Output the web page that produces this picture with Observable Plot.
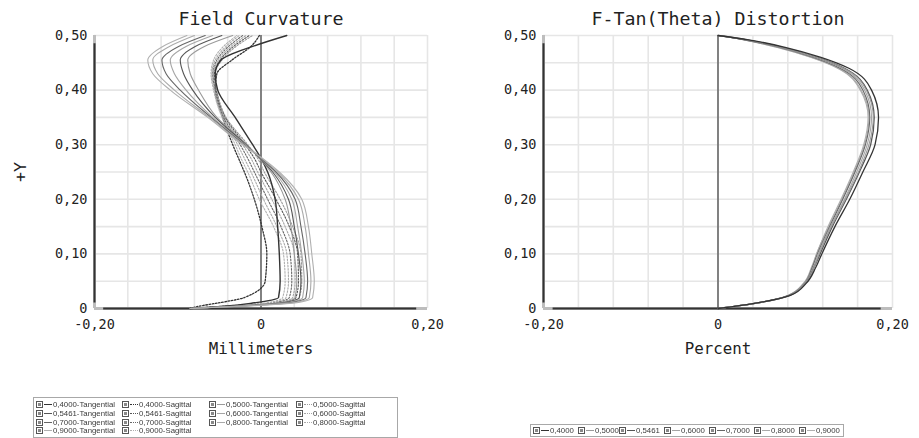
<!DOCTYPE html>
<html><head><meta charset="utf-8">
<script src="https://cdn.jsdelivr.net/npm/d3@7"></script>
<script src="https://cdn.jsdelivr.net/npm/@observablehq/plot@0.6"></script>
<style>
body{margin:0;background:#fff;}
#wrap{position:relative;width:919px;height:438px;overflow:hidden;}
.panel{position:absolute;top:0;}
.legend{position:absolute;border:1px solid #a8a8a8;background:#fff;font-family:"Liberation Sans","Noto Sans",sans-serif;font-size:7.8px;color:#3a3a3a;white-space:nowrap;will-change:transform;}
.item{position:absolute;display:flex;align-items:center;height:9px;}
.chk{display:inline-block;width:5px;height:5px;border:1px solid #555;margin-right:1px;position:relative;}
.chk::after{content:"";position:absolute;left:1px;top:1px;width:3px;height:3px;background:#888;}
.ln{display:inline-block;width:8px;height:0;margin-right:1px;}
</style></head>
<body><div id="wrap"></div>
<script>
// ---------- data ----------
const wavelengths = ["0,4000","0,5000","0,5461","0,6000","0,7000","0,8000","0,9000"];
const seriesColors = ["#333","#9a9a9a","#555","#a5a5a5","#666","#aaa","#b0b0b0"];

// Field curvature: x (mm) at each field height
const fcY = [0, 0.004, 0.01, 0.02, 0.05, 0.10, 0.15, 0.20, 0.25, 0.275, 0.30, 0.35, 0.40, 0.43, 0.455, 0.48, 0.50];
const tan4000 = [-0.085, -0.045, -0.010, 0.021, 0.023, 0.022, 0.020, 0.017, 0.008, 0.000, -0.010, -0.031, -0.052, -0.055, -0.048, -0.010, 0.031];
const tan5000 = [-0.085, -0.035, 0.020, 0.041, 0.043, 0.040, 0.036, 0.029, 0.012, -0.002, -0.017, -0.053, -0.075, -0.085, -0.088, -0.068, -0.034];
const tan5461 = [-0.085, -0.033, 0.024, 0.046, 0.048, 0.045, 0.040, 0.033, 0.014, -0.001, -0.018, -0.055, -0.082, -0.093, -0.097, -0.079, -0.047];
const tan6000 = [-0.085, -0.031, 0.028, 0.050, 0.052, 0.049, 0.044, 0.037, 0.016, 0.000, -0.019, -0.058, -0.090, -0.104, -0.109, -0.090, -0.058];
const tan7000 = [-0.085, -0.029, 0.032, 0.054, 0.056, 0.053, 0.048, 0.041, 0.018, 0.000, -0.020, -0.060, -0.097, -0.114, -0.119, -0.099, -0.067];
const tan8000 = [-0.085, -0.027, 0.036, 0.058, 0.060, 0.057, 0.053, 0.045, 0.020, 0.001, -0.021, -0.062, -0.104, -0.124, -0.130, -0.110, -0.080];
const tan9000 = [-0.085, -0.025, 0.040, 0.062, 0.064, 0.061, 0.057, 0.049, 0.022, 0.002, -0.022, -0.064, -0.109, -0.130, -0.136, -0.118, -0.089];
const sag4000 = [-0.085, -0.075, -0.052, -0.020, 0.005, 0.007, 0.001, -0.008, -0.020, -0.027, -0.034, -0.046, -0.055, -0.053, -0.035, -0.012, -0.002];
const sag5000 = [-0.085, -0.035, 0.025, 0.046, 0.049, 0.048, 0.038, 0.023, 0.004, -0.004, -0.016, -0.042, -0.053, -0.055, -0.047, -0.030, -0.010];
const sag5461 = [-0.085, -0.038, 0.021, 0.042, 0.045, 0.044, 0.034, 0.018, 0.000, -0.008, -0.019, -0.043, -0.054, -0.056, -0.049, -0.033, -0.014];
const sag6000 = [-0.085, -0.041, 0.017, 0.038, 0.041, 0.040, 0.029, 0.013, -0.004, -0.012, -0.022, -0.044, -0.055, -0.057, -0.051, -0.036, -0.018];
const sag7000 = [-0.085, -0.044, 0.013, 0.034, 0.037, 0.035, 0.024, 0.008, -0.008, -0.016, -0.025, -0.045, -0.055, -0.058, -0.053, -0.039, -0.022];
const sag8000 = [-0.085, -0.047, 0.009, 0.030, 0.033, 0.031, 0.019, 0.003, -0.012, -0.020, -0.028, -0.046, -0.056, -0.059, -0.055, -0.042, -0.026];
const sag9000 = [-0.085, -0.050, 0.005, 0.026, 0.029, 0.027, 0.015, -0.002, -0.016, -0.024, -0.031, -0.047, -0.057, -0.060, -0.057, -0.045, -0.029];

// F-Tan(Theta) distortion: percent at each field height
const dY = [0, 0.009, 0.024, 0.046, 0.075, 0.10, 0.15, 0.20, 0.25, 0.30, 0.35, 0.40, 0.44, 0.46, 0.478, 0.492, 0.50];
const dist4000 = [0, 0.040, 0.083, 0.101, 0.112, 0.119, 0.134, 0.151, 0.166, 0.180, 0.184, 0.176, 0.150, 0.118, 0.078, 0.035, 0];
const dist5000 = [0, 0.041, 0.082, 0.100, 0.110, 0.116, 0.130, 0.146, 0.161, 0.173, 0.178, 0.170, 0.144, 0.113, 0.074, 0.033, 0];
const dist5461 = [0, 0.041, 0.082, 0.100, 0.110, 0.117, 0.131, 0.147, 0.162, 0.175, 0.179, 0.171, 0.145, 0.114, 0.075, 0.033, 0];
const dist6000 = [0, 0.040, 0.081, 0.099, 0.109, 0.115, 0.129, 0.145, 0.159, 0.171, 0.176, 0.168, 0.142, 0.111, 0.072, 0.032, 0];
const dist7000 = [0, 0.040, 0.081, 0.099, 0.108, 0.114, 0.128, 0.143, 0.157, 0.169, 0.174, 0.166, 0.140, 0.109, 0.071, 0.031, 0];
const dist8000 = [0, 0.040, 0.080, 0.098, 0.108, 0.113, 0.127, 0.142, 0.156, 0.168, 0.173, 0.164, 0.138, 0.107, 0.069, 0.030, 0];
const dist9000 = [0, 0.040, 0.080, 0.098, 0.107, 0.113, 0.126, 0.141, 0.155, 0.167, 0.172, 0.163, 0.137, 0.106, 0.068, 0.030, 0];

const xTicks = [-0.2, 0, 0.2];
const yTicks = [0, 0.1, 0.2, 0.3, 0.4, 0.5];
const xGrid = [-0.2, -0.16, -0.12, -0.08, -0.04, 0, 0.04, 0.08, 0.12, 0.16, 0.2];
const yGrid = [0, 0.05, 0.1, 0.15, 0.2, 0.25, 0.3, 0.35, 0.4, 0.45, 0.5];

const tanSeries = [tan4000, tan5000, tan5461, tan6000, tan7000, tan8000, tan9000];
const sagSeries = [sag4000, sag5000, sag5461, sag6000, sag7000, sag8000, sag9000];
const distSeries = [dist4000, dist5000, dist5461, dist6000, dist7000, dist8000, dist9000];

// ---------- helpers ----------
const fmt = d => d === 0 ? "0" : d.toFixed(2).replace(".", ",");
const rows = (xs, ys) => xs.map((x, i) => ({x, y: ys[i]}));
const font = "DejaVu Sans Mono, monospace";

function frameMarks() {
  return [
    Plot.ruleX(xGrid, {stroke: "#e6e6e6", strokeWidth: 1.6}),
    Plot.ruleY(yGrid, {stroke: "#e6e6e6", strokeWidth: 1.6}),
    Plot.ruleX([-0.2], {y1: 0, y2: 0.5, stroke: "#bdbdbd", strokeWidth: 3}),
    Plot.ruleX([-0.2], {y1: 0.01, y2: 0.485, stroke: "#333", strokeWidth: 2}),
    Plot.ruleY([0], {x1: -0.2, x2: 0.2, stroke: "#bdbdbd", strokeWidth: 3}),
    Plot.ruleY([0], {x1: -0.189, x2: 0.187, stroke: "#333", strokeWidth: 2}),
    Plot.ruleX([0], {y1: 0, y2: 0.5, stroke: "#555", strokeWidth: 1.4})
  ];
}
function axisMarks(title, xlabel, ylabel) {
  const m = [
    Plot.axisX(xTicks, {tickSize: 0, tickPadding: 11, tickFormat: fmt, label: null, fontSize: 13.5, fill: "#222"}),
    Plot.axisY(yTicks, {tickSize: 0, tickPadding: 7, tickFormat: fmt, label: null, fontSize: 13.5, fill: "#222"}),
    Plot.text([title], {text: d => d, frameAnchor: "top", lineAnchor: "middle", dy: -16, fontSize: 18.3, fill: "#222"}),
    Plot.text([xlabel], {text: d => d, frameAnchor: "bottom", lineAnchor: "middle", dy: 40, fontSize: 15.8, fill: "#222"})
  ];
  if (ylabel) m.push(Plot.text([ylabel], {text: d => d, frameAnchor: "left", textAnchor: "middle", lineAnchor: "middle", dx: -74, dy: 0, rotate: -90, fontSize: 16.5, fill: "#222"}));
  return m;
}

// ---------- left: field curvature ----------
const fcLines = [];
sagSeries.forEach((s, i) => fcLines.push(Plot.line(rows(s, fcY), {x: "x", y: "y", curve: "monotone-y", stroke: seriesColors[i], strokeWidth: i === 0 ? 1.3 : 1.1, strokeDasharray: "1.6,1.6"})));
tanSeries.forEach((s, i) => fcLines.push(Plot.line(rows(s, fcY), {x: "x", y: "y", curve: "monotone-y", stroke: seriesColors[i], strokeWidth: i === 0 ? 1.4 : 1.1})));

const left = Plot.plot({
  width: 460, height: 365, marginTop: 35, marginBottom: 57, marginLeft: 94, marginRight: 33,
  x: {domain: [-0.2, 0.2], axis: null}, y: {domain: [0, 0.5], axis: null},
  style: {fontFamily: font, background: "transparent", color: "#222"},
  marks: [...frameMarks(), ...fcLines, ...axisMarks("Field Curvature", "Millimeters", "+Y")]
});

// ---------- right: distortion ----------
const dLines = distSeries.map((s, i) => Plot.line(rows(s, dY), {x: "x", y: "y", curve: "monotone-y", stroke: seriesColors[i], strokeWidth: i === 0 || i === 2 ? 1.3 : 1.1})).reverse();
const right = Plot.plot({
  width: 459, height: 365, marginTop: 35, marginBottom: 57, marginLeft: 83, marginRight: 27,
  x: {domain: [-0.2, 0.2], axis: null}, y: {domain: [0, 0.5], axis: null},
  style: {fontFamily: font, background: "transparent", color: "#222"},
  marks: [...frameMarks(), ...dLines, ...axisMarks("F-Tan(Theta) Distortion", "Percent", null)]
});

const wrap = document.getElementById("wrap");
left.classList.add("panel"); left.style.left = "0px";
right.classList.add("panel"); right.style.left = "460px";
wrap.appendChild(left); wrap.appendChild(right);

// ---------- legends ----------
function makeItem(label, color, dotted, x, y) {
  const it = document.createElement("div");
  it.className = "item";
  it.style.left = x + "px"; it.style.top = y + "px";
  const c = document.createElement("span"); c.className = "chk";
  const l = document.createElement("span"); l.className = "ln";
  l.style.borderTop = "1.5px " + (dotted ? "dotted " : "solid ") + color;
  const t = document.createElement("span"); t.textContent = label;
  it.append(c, l, t);
  return it;
}
const legL = document.createElement("div");
legL.className = "legend";
Object.assign(legL.style, {left: "33px", top: "397px", width: "363px", height: "39px"});
const fcEntries = [];
wavelengths.forEach((w, i) => {
  fcEntries.push({label: w + "-Tangential", color: seriesColors[i], dotted: false});
  fcEntries.push({label: w + "-Sagittal", color: seriesColors[i], dotted: true});
});
const colX = [2, 88, 175, 262];
fcEntries.forEach((e, k) => {
  const row = Math.floor(k / 4), col = k % 4;
  legL.appendChild(makeItem(e.label, e.color, e.dotted, colX[col], 2 + row * 8.8));
});
wrap.appendChild(legL);

const legR = document.createElement("div");
legR.className = "legend";
Object.assign(legR.style, {left: "530px", top: "424px", width: "312px", height: "11px"});
const rX = [2, 47, 88, 133, 178, 223, 268];
wavelengths.forEach((w, i) => legR.appendChild(makeItem(w, seriesColors[i], false, rX[i], 1)));
wrap.appendChild(legR);
</script></body></html>
